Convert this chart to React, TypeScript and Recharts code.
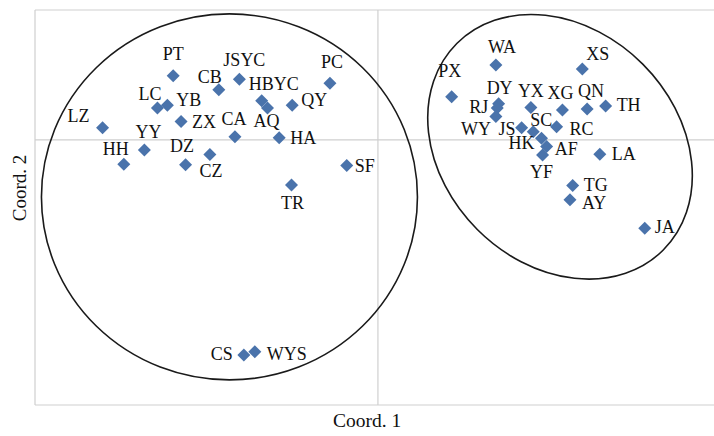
import React from 'react';
import { ScatterChart, Scatter, XAxis, YAxis, ReferenceLine, ReferenceDot } from 'recharts';

// sample codes and their two MDS coordinates
const names = [
  'PT', 'JSYC', 'CB', 'PC', 'HBYC', 'AQ', 'QY', 'LC', 'YB', 'ZX', 'LZ', 'CA', 'HA', 'YY', 'DZ', 'HH', 'CZ', 'SF', 'TR', 'CS', 'WYS',
  'WA', 'XS', 'PX', 'DY', 'RJ', 'WY', 'YX', 'XG', 'QN', 'TH', 'JS', 'SC', 'RC', 'HK', 'AF', 'YF', 'LA', 'TG', 'AY', 'JA',
];
const coord1 = [
  -0.597, -0.404, -0.464, -0.14, -0.339, -0.322, -0.25, -0.643, -0.614, -0.574, -0.803, -0.417, -0.288, -0.681, -0.49, -0.741, -0.561, -0.091, -0.252, -0.391, -0.359,
  0.344, 0.596, 0.215, 0.352, 0.348, 0.344, 0.446, 0.538, 0.61, 0.664, 0.419, 0.453, 0.521, 0.477, 0.492, 0.48, 0.647, 0.568, 0.56, 0.778,
];
const coord2 = [
  0.242, 0.229, 0.189, 0.214, 0.148, 0.12, 0.131, 0.12, 0.131, 0.069, 0.046, 0.012, 0.008, -0.038, -0.055, -0.092, -0.094, -0.097, -0.17, -0.811, -0.799,
  0.283, 0.267, 0.163, 0.136, 0.12, 0.088, 0.122, 0.113, 0.117, 0.128, 0.046, 0.031, 0.05, 0.006, -0.025, -0.057, -0.054, -0.172, -0.226, -0.333,
];

// group outlines: centre (data units)
const groupCentres = [
  { x: -0.433, y: -0.215 },
  { x: 0.531, y: -0.026 },
];

const X_DOMAIN = [-1, 0.98];
const Y_DOMAIN = [-1, 0.49];

// label anchor, dx, baseline dy relative to the marker
const labelPlacement: Record<string, [string, number, number]> = {
  PT: ['middle', 0, -16], JSYC: ['middle', 5, -13], CB: ['end', 3, -7], PC: ['middle', 2, -15],
  HBYC: ['middle', 12, -11], AQ: ['middle', -1, 19], QY: ['start', 9, 1], LC: ['end', 4, -8],
  YB: ['start', 9, 1], ZX: ['start', 11, 6], LZ: ['end', -13, -6], CA: ['middle', -1, -12],
  HA: ['start', 11, 6], YY: ['middle', 4, -12], DZ: ['end', -16, -2], HH: ['middle', -8, -9],
  CZ: ['start', 14, 12], SF: ['start', 8, 6], TR: ['middle', 1, 24], CS: ['end', -11, 5],
  WYS: ['start', 12, 8], WA: ['middle', 6, -12], XS: ['start', 4, -9], PX: ['middle', -2, -20],
  DY: ['middle', 1, -10], RJ: ['end', -9, 5], WY: ['end', -5, 18], YX: ['middle', 0, -11],
  XG: ['middle', -2, -11], QN: ['middle', 4, -12], TH: ['start', 11, 5], JS: ['end', -6, 7],
  SC: ['middle', 8, -6], RC: ['start', 13, 8], HK: ['end', -7, 11], AF: ['start', 8, 8],
  YF: ['middle', -1, 23], LA: ['start', 12, 6], TG: ['start', 11, 6], AY: ['start', 12, 9],
  JA: ['start', 10, 5],
};

const data = names.map((name, i) => ({ name, x: coord1[i], y: coord2[i] }));

const FONT = '"Liberation Serif", "Times New Roman", serif';
const BLUE = '#4a73ab';
const GRID = '#cfcfcf';

const Diamond = (props: any) => {
  const { cx, cy } = props;
  const s = 6.5;
  return <path d={`M${cx},${cy - s}L${cx + s},${cy}L${cx},${cy + s}L${cx - s},${cy}Z`} fill={BLUE} />;
};

const PointLabel = (props: any) => {
  const { cx, cy, payload } = props;
  const [anchor, dx, dy] = labelPlacement[payload.name] || ['start', 9, 5];
  return (
    <text x={cx + dx} y={cy + dy} textAnchor={anchor as any} fontFamily={FONT} fontSize={18} fill="#111">
      {payload.name}
    </text>
  );
};

const ellipseShape = (rx: number, ry: number, rot: number) => (props: any) => (
  <ellipse
    cx={props.cx}
    cy={props.cy}
    rx={rx}
    ry={ry}
    transform={`rotate(${rot} ${props.cx} ${props.cy})`}
    fill="none"
    stroke="#1a1a1a"
    strokeWidth={1.6}
  />
);

export default function App() {
  return (
    <div style={{ position: 'absolute', left: 0, top: 0, width: 714, height: 436, background: '#fff' }}>
      <ScatterChart width={714} height={436} margin={{ top: 10, right: 0, bottom: 0, left: 0 }}>
        <XAxis
          type="number"
          dataKey="x"
          domain={X_DOMAIN}
          height={31}
          tick={false}
          axisLine={false}
          tickLine={false}
          label={{
            content: () => (
              <text x={367} y={427} textAnchor="middle" fontFamily={FONT} fontSize={19.5} fill="#111">
                Coord. 1
              </text>
            ),
          }}
        />
        <YAxis
          type="number"
          dataKey="y"
          domain={Y_DOMAIN}
          width={35}
          tick={false}
          axisLine={false}
          tickLine={false}
          label={{
            content: () => (
              <text x={26} y={188} transform="rotate(-90 26 188)" textAnchor="middle" fontFamily={FONT} fontSize={19} fill="#111">
                Coord. 2
              </text>
            ),
          }}
        />
        <ReferenceLine y={Y_DOMAIN[1]} stroke={GRID} strokeWidth={1.2} />
        <ReferenceLine y={Y_DOMAIN[0]} stroke={GRID} strokeWidth={1.2} />
        <ReferenceLine x={X_DOMAIN[0]} stroke={GRID} strokeWidth={1.2} />
        <ReferenceLine x={0} stroke={GRID} strokeWidth={1.2} />
        <ReferenceLine y={0} stroke={GRID} strokeWidth={1.2} />
        <ReferenceDot x={groupCentres[0].x} y={groupCentres[0].y} shape={ellipseShape(188, 183, 0)} />
        <ReferenceDot x={groupCentres[1].x} y={groupCentres[1].y} shape={ellipseShape(146, 117, 45)} />
        <Scatter data={data} dataKey="y" shape={Diamond} isAnimationActive={false} />
        <Scatter data={data} dataKey="y" shape={PointLabel} isAnimationActive={false} />
      </ScatterChart>
    </div>
  );
}
